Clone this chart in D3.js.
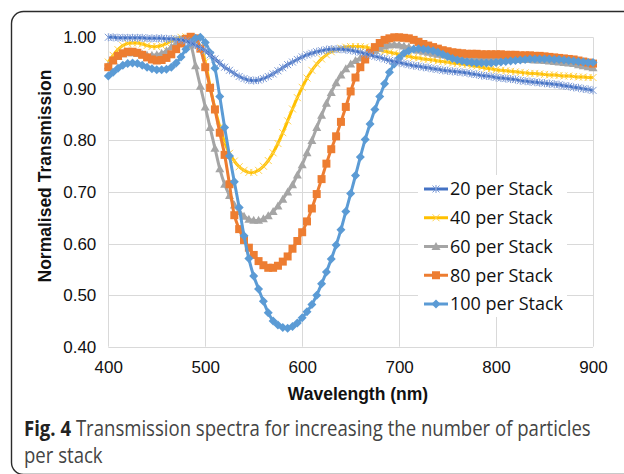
<!DOCTYPE html>
<html>
<head>
<meta charset="utf-8">
<script src="https://cdn.jsdelivr.net/npm/d3@7"></script>
<style>
body { margin: 0; background: #fff; }
svg { display: block; }
</style>
</head>
<body>
<svg id="chart" width="624" height="474"></svg>
<script>
// wavelength samples (nm), one every 5 nm
var wavelength = d3.range(400, 901, 5);

var stack20 = [
    1.000, 1.000, 0.999, 0.999, 0.999, 0.999, 0.999, 0.999, 0.998, 0.998,
    0.998, 0.998, 0.997, 0.997, 0.996, 0.995, 0.993, 0.989, 0.985, 0.980,
    0.974, 0.966, 0.958, 0.950, 0.942, 0.936, 0.930, 0.924, 0.920, 0.917,
    0.916, 0.917, 0.920, 0.924, 0.929, 0.935, 0.941, 0.947, 0.952, 0.957,
    0.962, 0.966, 0.969, 0.972, 0.974, 0.976, 0.977, 0.977, 0.977, 0.976,
    0.975, 0.973, 0.971, 0.968, 0.966, 0.963, 0.961, 0.958, 0.955, 0.953,
    0.951, 0.949, 0.947, 0.945, 0.944, 0.942, 0.941, 0.939, 0.938, 0.936,
    0.935, 0.934, 0.933, 0.932, 0.931, 0.929, 0.928, 0.926, 0.925, 0.924,
    0.922, 0.921, 0.920, 0.919, 0.918, 0.916, 0.915, 0.914, 0.913, 0.912,
    0.911, 0.910, 0.909, 0.908, 0.906, 0.905, 0.903, 0.902, 0.900, 0.899,
    0.897];

var stack40 = [
    0.952, 0.965, 0.976, 0.984, 0.988, 0.989, 0.989, 0.987, 0.984, 0.982,
    0.982, 0.984, 0.988, 0.993, 0.997, 1.000, 1.001, 1.000, 0.995, 0.982,
    0.952, 0.905, 0.862, 0.826, 0.796, 0.775, 0.760, 0.749, 0.742, 0.738,
    0.738, 0.742, 0.750, 0.761, 0.776, 0.794, 0.815, 0.838, 0.861, 0.883,
    0.903, 0.921, 0.936, 0.948, 0.958, 0.966, 0.972, 0.976, 0.979, 0.981,
    0.982, 0.982, 0.982, 0.981, 0.979, 0.977, 0.975, 0.973, 0.971, 0.969,
    0.967, 0.965, 0.963, 0.961, 0.960, 0.958, 0.957, 0.956, 0.954, 0.953,
    0.952, 0.950, 0.949, 0.948, 0.947, 0.945, 0.944, 0.942, 0.940, 0.939,
    0.937, 0.936, 0.935, 0.934, 0.933, 0.932, 0.931, 0.930, 0.930, 0.929,
    0.928, 0.927, 0.927, 0.926, 0.925, 0.925, 0.924, 0.923, 0.923, 0.922,
    0.922];

var stack60 = [
    0.945, 0.955, 0.963, 0.968, 0.970, 0.970, 0.969, 0.967, 0.965, 0.965,
    0.966, 0.969, 0.974, 0.981, 0.988, 0.994, 0.997, 0.985, 0.945, 0.905,
    0.865, 0.825, 0.785, 0.745, 0.715, 0.693, 0.675, 0.662, 0.653, 0.647,
    0.645, 0.645, 0.648, 0.654, 0.662, 0.673, 0.686, 0.700, 0.714, 0.733,
    0.753, 0.776, 0.800, 0.825, 0.849, 0.872, 0.893, 0.912, 0.927, 0.939,
    0.948, 0.955, 0.960, 0.965, 0.970, 0.975, 0.979, 0.983, 0.985, 0.986,
    0.985, 0.983, 0.981, 0.978, 0.975, 0.973, 0.971, 0.969, 0.967, 0.966,
    0.965, 0.963, 0.962, 0.961, 0.960, 0.960, 0.960, 0.959, 0.959, 0.959,
    0.959, 0.959, 0.958, 0.958, 0.958, 0.957, 0.957, 0.957, 0.956, 0.956,
    0.955, 0.954, 0.953, 0.952, 0.951, 0.950, 0.949, 0.947, 0.945, 0.943,
    0.941];

var stack80 = [
    0.942, 0.955, 0.964, 0.969, 0.972, 0.972, 0.970, 0.966, 0.961, 0.957,
    0.955, 0.956, 0.960, 0.967, 0.977, 0.988, 0.997, 1.001, 0.998, 0.978,
    0.942, 0.902, 0.860, 0.815, 0.772, 0.715, 0.655, 0.628, 0.607, 0.592,
    0.578, 0.566, 0.558, 0.553, 0.553, 0.557, 0.565, 0.575, 0.590, 0.605,
    0.622, 0.643, 0.668, 0.696, 0.725, 0.755, 0.783, 0.808, 0.836, 0.865,
    0.895, 0.922, 0.942, 0.957, 0.970, 0.981, 0.989, 0.995, 0.998, 1.000,
    1.000, 0.999, 0.998, 0.995, 0.991, 0.987, 0.984, 0.981, 0.978, 0.975,
    0.973, 0.971, 0.970, 0.969, 0.968, 0.968, 0.968, 0.967, 0.967, 0.967,
    0.967, 0.967, 0.966, 0.966, 0.966, 0.965, 0.965, 0.965, 0.964, 0.964,
    0.963, 0.962, 0.961, 0.960, 0.959, 0.958, 0.957, 0.955, 0.953, 0.951,
    0.949];

var stack100 = [
    0.925, 0.932, 0.940, 0.946, 0.949, 0.950, 0.949, 0.946, 0.942, 0.939,
    0.937, 0.937, 0.938, 0.942, 0.950, 0.962, 0.977, 0.990, 0.998, 1.000,
    0.990, 0.970, 0.940, 0.885, 0.825, 0.770, 0.720, 0.670, 0.615, 0.571,
    0.537, 0.512, 0.488, 0.466, 0.450, 0.442, 0.437, 0.436, 0.439, 0.446,
    0.456, 0.468, 0.482, 0.500, 0.522, 0.545, 0.570, 0.597, 0.627, 0.662,
    0.697, 0.732, 0.768, 0.802, 0.832, 0.860, 0.885, 0.910, 0.932, 0.948,
    0.960, 0.969, 0.974, 0.977, 0.978, 0.977, 0.976, 0.974, 0.971, 0.967,
    0.963, 0.959, 0.956, 0.954, 0.952, 0.951, 0.950, 0.950, 0.950, 0.950,
    0.951, 0.952, 0.953, 0.954, 0.955, 0.956, 0.957, 0.958, 0.958, 0.958,
    0.958, 0.958, 0.957, 0.957, 0.956, 0.955, 0.954, 0.953, 0.952, 0.951,
    0.951];

var seriesNames = ["20 per Stack", "40 per Stack", "60 per Stack", "80 per Stack", "100 per Stack"];
var xTicks = [400, 500, 600, 700, 800, 900];
var yTicks = [0.40, 0.50, 0.60, 0.70, 0.80, 0.90, 1.00];

// look of each series (same order as seriesNames)
var colors = ["#4472C4", "#FFC000", "#A5A5A5", "#ED7D31", "#5B9BD5"];
var markers = [
    {path: "M-3.5,-3.5L3.5,3.5M-3.5,3.5L3.5,-3.5M0,-4L0,4", fill: "none", stroke: "#7d9bd6"},
    {path: "M-3.5,-3.5L3.5,3.5M-3.5,3.5L3.5,-3.5", fill: "none", stroke: "#ffd24d"},
    {path: "M0,-4.5L4.5,3.5L-4.5,3.5Z", fill: "#A5A5A5", stroke: "none"},
    {path: "M-4,-4L4,-4L4,4L-4,4Z", fill: "#ED7D31", stroke: "none"},
    {path: "M0,-4.5L4.5,0L0,4.5L-4.5,0Z", fill: "#5B9BD5", stroke: "none"}
];

var svg = d3.select("#chart");
svg.append("rect").attr("width", 624).attr("height", 474).attr("fill", "#fff");

// rounded frame around the figure
svg.append("rect")
    .attr("x", 11.5).attr("y", 11.5)
    .attr("width", 700).attr("height", 463)
    .attr("rx", 12)
    .attr("fill", "none")
    .attr("stroke", "#2b2b2b")
    .attr("stroke-width", 1.4);

var x = d3.scaleLinear().domain([400, 900]).range([108.3, 593]);
var y = d3.scaleLinear().domain([0.4, 1.0]).range([346.7, 37.3]);

var tickFont = "'Liberation Sans', Arial, sans-serif";

// gridlines
var grid = svg.append("g").attr("stroke", "#d9d9d9").attr("stroke-width", 1);
grid.selectAll(".hg").data(yTicks).enter().append("line")
    .attr("x1", x(400)).attr("x2", x(900))
    .attr("y1", function(d) { return Math.round(y(d)) + 0.5; })
    .attr("y2", function(d) { return Math.round(y(d)) + 0.5; });
grid.selectAll(".vg").data(xTicks).enter().append("line")
    .attr("y1", y(1.0)).attr("y2", y(0.4))
    .attr("x1", function(d) { return Math.round(x(d)) + 0.5; })
    .attr("x2", function(d) { return Math.round(x(d)) + 0.5; });

// axes (labels only, Excel style)
var yAxis = svg.append("g")
    .attr("transform", "translate(" + x(400) + ",0)")
    .call(d3.axisLeft(y).tickValues(yTicks).tickFormat(d3.format(".2f")).tickSize(0).tickPadding(12));
var xAxis = svg.append("g")
    .attr("transform", "translate(0," + y(0.4) + ")")
    .call(d3.axisBottom(x).tickValues(xTicks).tickFormat(d3.format("d")).tickSize(0).tickPadding(14));
[yAxis, xAxis].forEach(function(a) {
    a.select(".domain").remove();
    a.selectAll("text")
        .attr("fill", "#111")
        .style("font-family", tickFont)
        .style("font-size", "17px");
});

svg.append("text")
    .attr("transform", "translate(51,176) rotate(-90)")
    .attr("text-anchor", "middle")
    .style("font-family", tickFont)
    .style("font-size", "17.5px")
    .style("font-weight", "bold")
    .attr("fill", "#111")
    .text("Normalised Transmission");

svg.append("text")
    .attr("x", 358).attr("y", 400)
    .attr("text-anchor", "middle")
    .style("font-family", tickFont)
    .style("font-size", "17.5px")
    .style("font-weight", "bold")
    .attr("fill", "#111")
    .text("Wavelength (nm)");

// series
var allSeries = [stack20, stack40, stack60, stack80, stack100];
var line = d3.line()
    .x(function(d, i) { return x(wavelength[i]); })
    .y(function(d) { return y(d); })
    .curve(d3.curveCatmullRom);

var drawOrder = [1, 2, 3, 4, 0];
drawOrder.forEach(function(k) {
    var g = svg.append("g");
    g.append("path")
        .attr("d", line(allSeries[k]))
        .attr("fill", "none")
        .attr("stroke", colors[k])
        .attr("stroke-width", 3)
        .attr("stroke-linejoin", "round");
    g.selectAll("path.mk")
        .data(allSeries[k])
        .enter().append("path")
        .attr("class", "mk")
        .attr("transform", function(d, i) { return "translate(" + x(wavelength[i]) + "," + y(d) + ")"; })
        .attr("d", markers[k].path)
        .attr("fill", markers[k].fill)
        .attr("stroke", markers[k].stroke)
        .attr("stroke-width", 1);
});

// legend
var legend = svg.append("g");
legend.append("rect")
    .attr("x", 418).attr("y", 175)
    .attr("width", 149).attr("height", 142)
    .attr("fill", "#fff");
var ly = d3.scalePoint().domain(seriesNames).range([189, 304]);
seriesNames.forEach(function(name, k) {
    var row = legend.append("g").attr("transform", "translate(0," + ly(name) + ")");
    row.append("line")
        .attr("x1", 424).attr("x2", 448)
        .attr("stroke", colors[k]).attr("stroke-width", 3);
    row.append("path")
        .attr("transform", "translate(436,0)")
        .attr("d", markers[k].path)
        .attr("fill", markers[k].fill)
        .attr("stroke", markers[k].stroke)
        .attr("stroke-width", 1);
    row.append("text")
        .attr("x", 450).attr("dy", "0.35em")
        .style("font-family", "'Open Sans', sans-serif")
        .style("font-size", "18px")
        .attr("fill", "#111")
        .text(name);
});

// caption
var cap = svg.append("text")
    .attr("x", 24).attr("y", 436)
    .style("font-family", "'Open Sans', sans-serif")
    .style("font-size", "21px")
    .attr("fill", "#444");
cap.append("tspan").style("font-weight", "bold").attr("fill", "#222").text("Fig. 4");
cap.append("tspan").text(" Transmission spectra for increasing the number of particles");
var capLen = cap.node().getComputedTextLength();
var sx = 567 / capLen;
cap.attr("transform", "translate(24,0) scale(" + sx + ",1) translate(-24,0)");

svg.append("text")
    .attr("x", 24).attr("y", 463)
    .attr("transform", "translate(24,0) scale(" + sx + ",1) translate(-24,0)")
    .style("font-family", "'Open Sans', sans-serif")
    .style("font-size", "21px")
    .attr("fill", "#444")
    .text("per stack");
</script>
</body>
</html>
